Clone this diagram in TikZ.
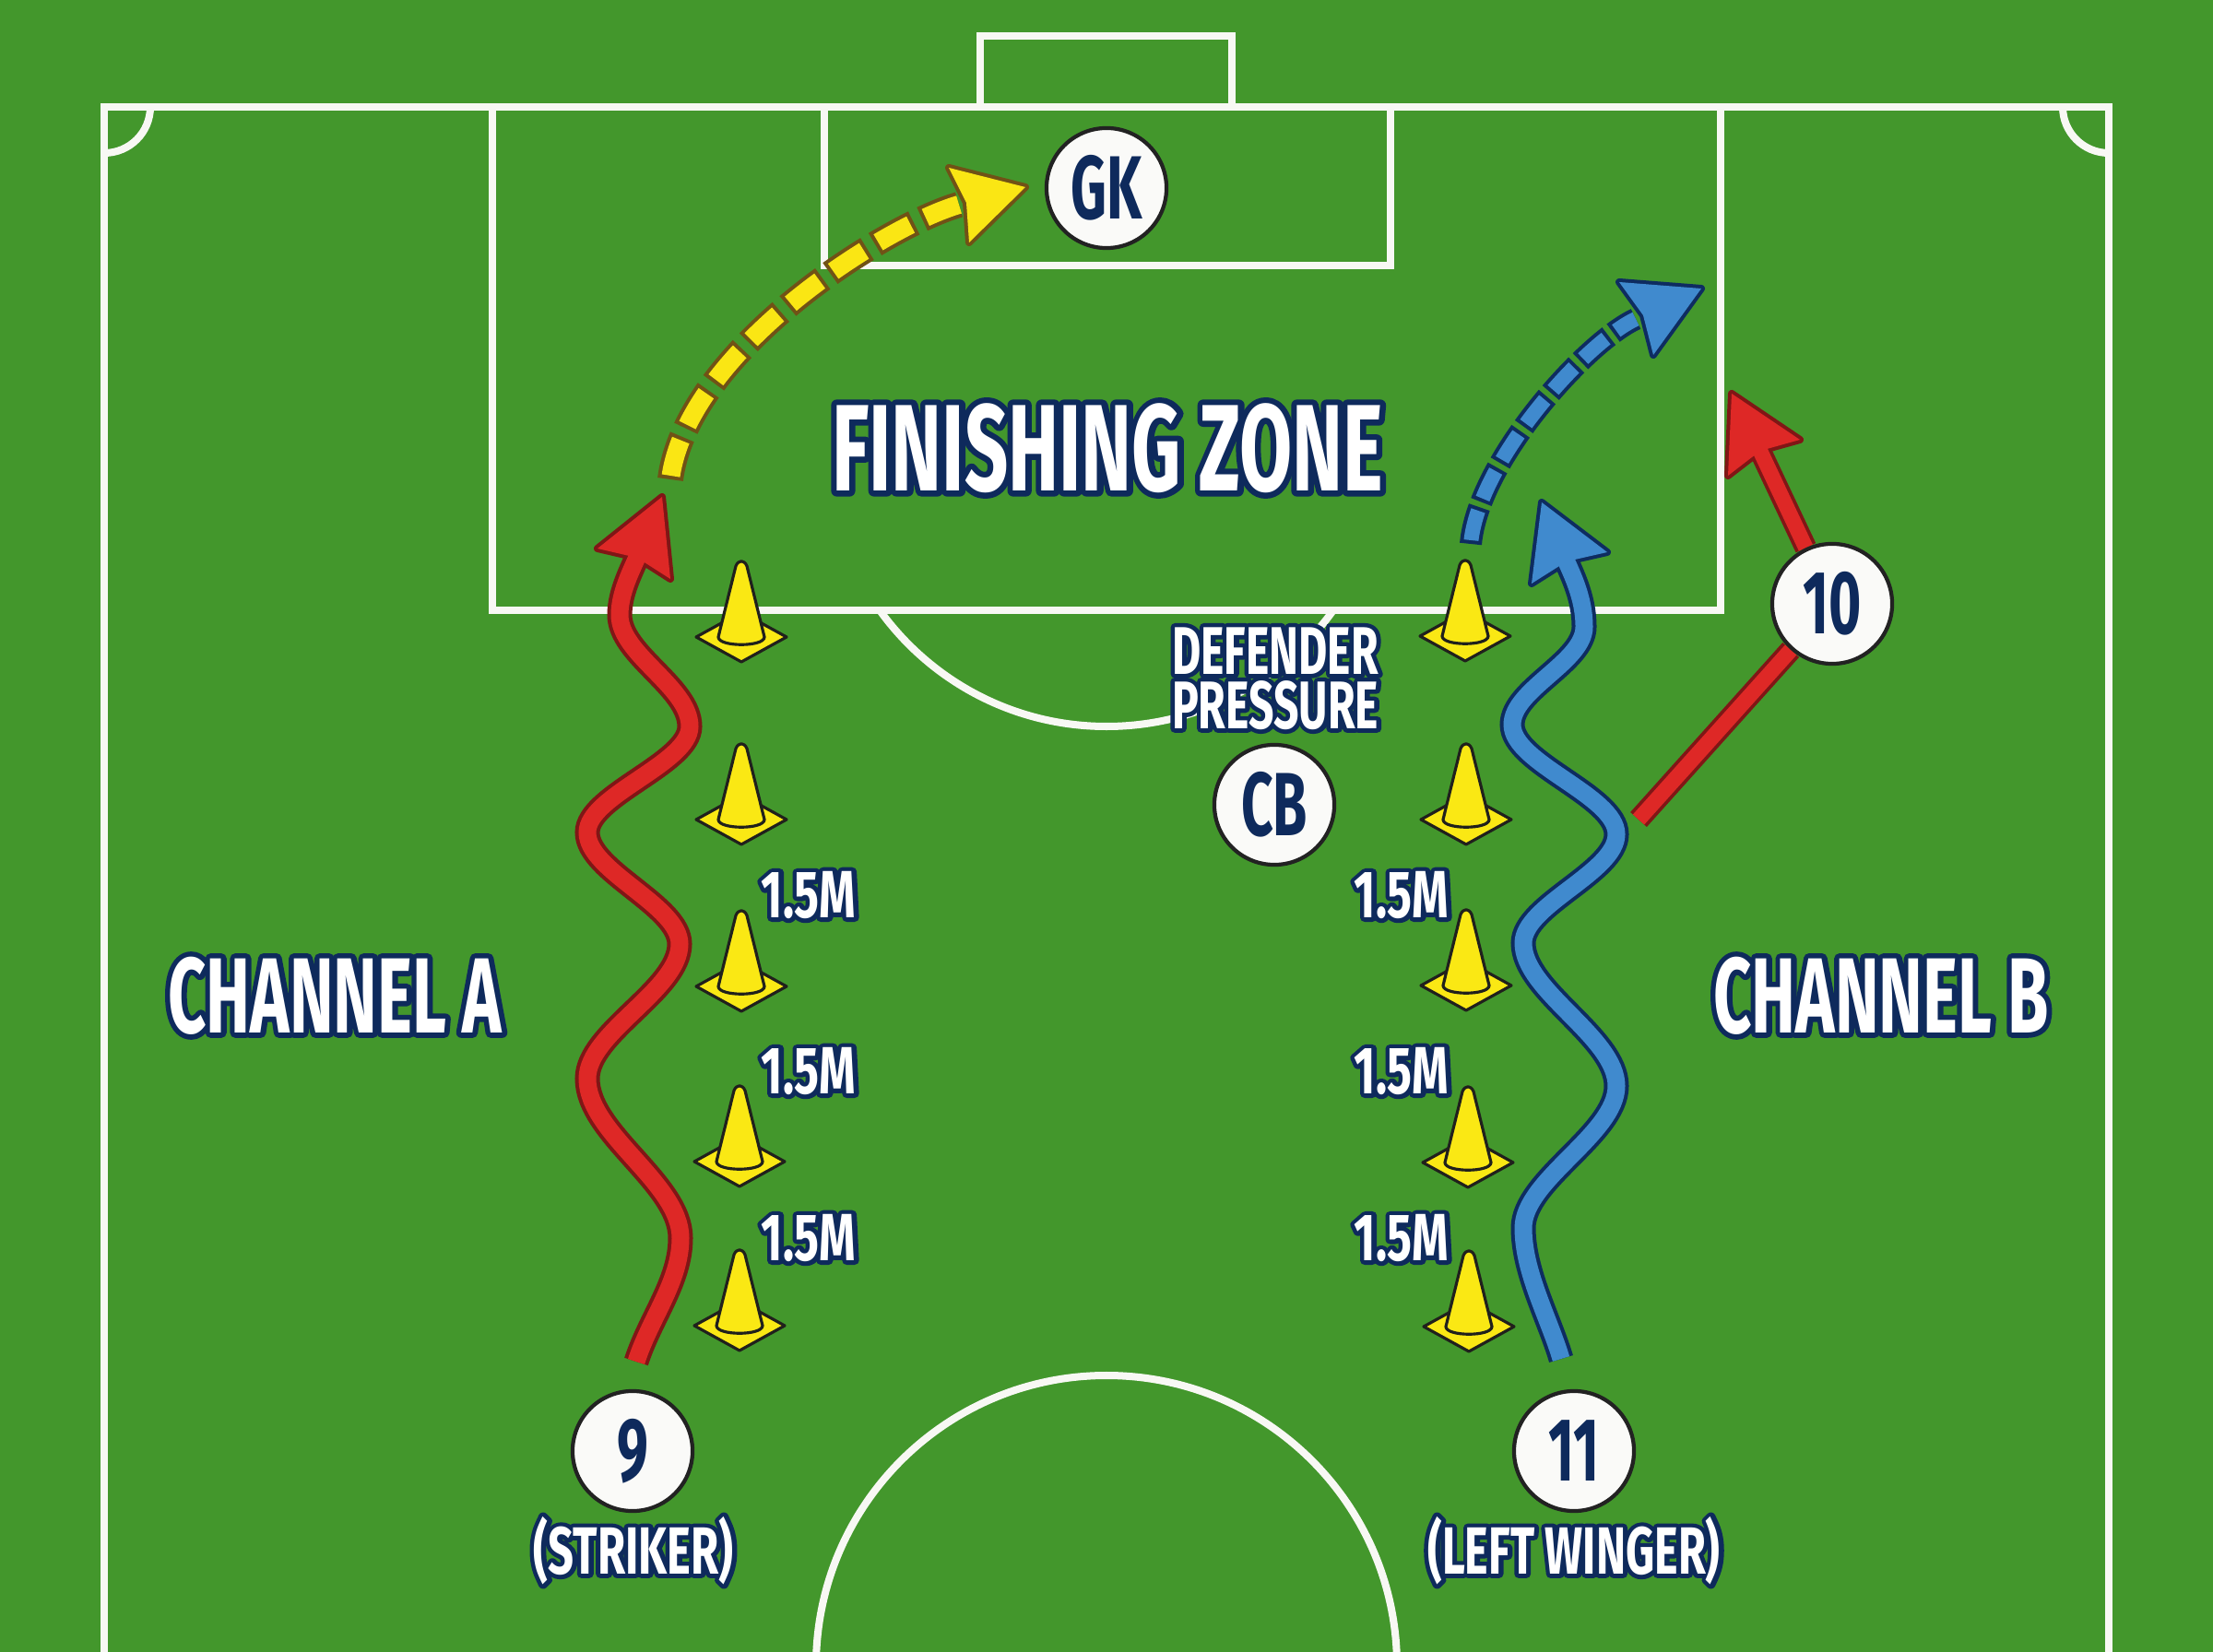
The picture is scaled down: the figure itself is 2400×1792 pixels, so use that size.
\documentclass[tikz,border=0pt]{standalone}
\usepackage{fontspec}
\newfontfamily\cond[FakeStretch=0.62]{Fira Sans}
\usetikzlibrary{calc}
\definecolor{grass}{RGB}{67,151,44}
\definecolor{chalk}{RGB}{248,248,244}
\definecolor{navy}{RGB}{14,42,92}
\definecolor{runred}{RGB}{222,40,38}
\definecolor{runredout}{RGB}{128,22,22}
\definecolor{runblue}{RGB}{64,138,206}
\definecolor{runblueout}{RGB}{14,44,96}
\definecolor{dashyellow}{RGB}{250,230,20}
\definecolor{dashyellowout}{RGB}{112,82,22}
\definecolor{coneyellow}{RGB}{250,232,20}
\definecolor{coneout}{RGB}{32,32,28}
\definecolor{discout}{RGB}{34,34,34}
\definecolor{discfill}{RGB}{250,250,248}
\pgfdeclarelayer{bg}\pgfdeclarelayer{runs}\pgfsetlayers{bg,runs,main}
% white text with a navy outline: a stroked navy copy under a white copy
\newcommand\otext[2][3]{%
  \makebox[0pt][l]{\textcolor{navy}{\special{pdf:code q 2 Tr #1 w 1 j}#2\special{pdf:code Q}}}%
  \textcolor{white}{#2}}
\begin{document}
\begin{tikzpicture}[x=0.01cm,y=-0.01cm,
  pitchline/.style={draw=chalk, line width=2.28pt, line join=miter},
  conebody/.style={fill=coneyellow, draw=coneout, line width=0.9pt, line join=round},
  pics/fieldcone/.style={code={
    \filldraw[conebody] (-49,0) -- (0,-27) -- (49,0) -- (0,27) -- cycle;
    \filldraw[conebody] (-25,0) -- (-6,-77) .. controls (-3,-84) and (3,-84) .. (6,-77)
       -- (25,0) .. controls (25,11) and (-25,11) .. (-25,0) -- cycle;
  }},
  player/.style={circle, draw=discout, fill=discfill, line width=1.2pt, minimum size=37pt,
    inner sep=0pt, text=navy, font=\cond\bfseries\fontsize{27.7pt}{30pt}\selectfont},
  txtbig/.style={inner sep=0pt, font=\cond\bfseries\fontsize{38pt}{40pt}\selectfont},
  txtchan/.style={inner sep=0pt, font=\cond\bfseries\fontsize{33pt}{36pt}\selectfont},
  txtmid/.style={inner sep=0pt, align=center, font=\cond\bfseries\fontsize{20.8pt}{16.8pt}\selectfont},
  txtsmall/.style={inner sep=0pt, font=\cond\bfseries\fontsize{20.6pt}{22pt}\selectfont},
  headout/.style={fill=#1, draw=#1, line width=2.28pt, line join=round},
  headin/.style={fill=#1},
  wave/.style 2 args={draw=#2, double=#1, line width=1.14pt, double distance=5.4pt},
  straightrun/.style 2 args={draw=#2, double=#1, line width=1.05pt, double distance=4.7pt}
]
\useasboundingbox (0,0) rectangle (2400,1792);
\begin{pgfonlayer}{bg}
\fill[grass] (0,0) rectangle (2400,1792);
% pitch markings
\draw[pitchline] (113,1900) -- (113,116) -- (2287,116) -- (2287,1900);
\draw[pitchline] (1063,116) -- (1063,39) -- (1336,39) -- (1336,116);
\draw[pitchline] (534,116) -- (534,662) -- (1866,662) -- (1866,116);
\draw[pitchline] (894,116) -- (894,288) -- (1508,288) -- (1508,116);
\draw[pitchline] (1200,1807) circle[radius=315];
\begin{scope}
  \clip (113,116) rectangle (220,220);
  \draw[pitchline] (113,116) circle[radius=50];
\end{scope}
\begin{scope}
  \clip (2180,116) rectangle (2287,220);
  \draw[pitchline] (2287,116) circle[radius=50];
\end{scope}
\begin{scope}
  \clip (0,662) rectangle (2400,1000);
  \draw[pitchline] (1200,485) circle[radius=303];
\end{scope}
% cones
\pic at (804,691) {fieldcone};
\pic at (804,889) {fieldcone};
\pic at (804,1070) {fieldcone};
\pic at (802,1260) {fieldcone};
\pic at (802,1438) {fieldcone};
\pic at (1589,690) {fieldcone};
\pic at (1590,889) {fieldcone};
\pic at (1590,1069) {fieldcone};
\pic at (1592,1261) {fieldcone};
\pic at (1593,1439) {fieldcone};
% texts
\node[txtbig] (fz) at (1201,486) {\otext[3.6]{FINISHING ZONE}};
\node[txtmid] (dp) at (1383,736) {\scalebox{1.06}[1]{\otext[2.6]{DEFENDER}}\\\scalebox{1.06}[1]{\otext[2.6]{PRESSURE}}};
\node[txtchan] (cha) at (363,1080) {\otext[3.2]{CHANNEL A}};
\node[txtchan] (chb) at (2040,1080) {\otext[3.2]{CHANNEL B}};
\node[txtsmall] (dl1) at (877,971) {\scalebox{1.12}[1]{\otext[2.6]{1.5M}}};
\node[txtsmall] (dl2) at (877,1162) {\scalebox{1.12}[1]{\otext[2.6]{1.5M}}};
\node[txtsmall] (dl3) at (877,1343) {\scalebox{1.12}[1]{\otext[2.6]{1.5M}}};
\node[txtsmall] (dr1) at (1520,971) {\scalebox{1.12}[1]{\otext[2.6]{1.5M}}};
\node[txtsmall] (dr2) at (1520,1162) {\scalebox{1.12}[1]{\otext[2.6]{1.5M}}};
\node[txtsmall] (dr3) at (1520,1343) {\scalebox{1.12}[1]{\otext[2.6]{1.5M}}};
\node[txtsmall] (strk) at (687,1682) {\scalebox{1.09}[1]{\otext[2.6]{(STRIKER)}}};
\node[txtsmall] (lwng) at (1707,1682) {\scalebox{1.08}[1]{\otext[2.6]{(LEFT WINGER)}}};
\end{pgfonlayer}
% players
\node[player] (gk) at (1200,204) {GK};
\node[player] (cb) at (1382,873) {CB};
\node[player] (ten) at (1987,655) {10};
\node[player] (nine) at (686,1574) {9};
\node[player] (eleven) at (1707,1574) {11};
% run coordinates
\coordinate (rws) at (690,1477);
\coordinate (rwe) at (696,593);
\coordinate (bws) at (1693,1474);
\coordinate (bwe) at (1694,598);
\coordinate (ys) at (727,520);
\coordinate (ye) at (1040,222);
\coordinate (bds) at (1595,590);
\coordinate (bde) at (1774,346);
\coordinate (rss) at (1777,889);
\coordinate (rse) at (1906,483);
\begin{pgfonlayer}{runs}
% red dribble (striker)
\filldraw[headout=runredout] (718,539) -- (648,595) -- (691,605) -- (727,628) -- cycle;
\draw[wave={runred}{runredout}] (rws) .. controls (705,1430) and (738,1390) .. (738,1343)
  .. controls (738,1283) and (637,1230) .. (637,1170)
  .. controls (637,1120) and (737,1074) .. (737,1024)
  .. controls (737,982) and (637,945) .. (637,903)
  .. controls (637,863) and (748,828) .. (748,788)
  .. controls (748,745) and (672,710) .. (672,667)
  .. controls (672,640) and (688,613) .. (rwe);
\fill[headin=runred] (718,539) -- (648,595) -- (691,605) -- (727,628) -- cycle;
% blue dribble (left winger)
\filldraw[headout=runblueout] (1672,545) -- (1661,633) -- (1699,609) -- (1743,599) -- cycle;
\draw[wave={runblue}{runblueout}] (bws) .. controls (1680,1430) and (1652,1380) .. (1652,1332)
  .. controls (1652,1280) and (1753,1230) .. (1753,1178)
  .. controls (1753,1125) and (1652,1075) .. (1652,1023)
  .. controls (1652,982) and (1753,946) .. (1753,905)
  .. controls (1753,863) and (1640,828) .. (1640,786)
  .. controls (1640,748) and (1718,718) .. (1718,680)
  .. controls (1718,645) and (1702,618) .. (bwe);
\fill[headin=runblue] (1672,545) -- (1661,633) -- (1699,609) -- (1743,599) -- cycle;
% yellow dashed shot
\draw[line width=7.97pt, dashyellowout, dash pattern=on 13.66pt off 2.84pt]
  (ys) .. controls (745,380) and (960,245) .. (ye);
\draw[line width=5.69pt, dashyellow, dash pattern=on 11.38pt off 5.12pt, dash phase=15.36pt]
  (ys) .. controls (745,380) and (960,245) .. (ye);
\filldraw[headout=dashyellowout] (1112,203) -- (1029,182) -- (1048,220) -- (1051,263) -- cycle;
\fill[headin=dashyellow] (1112,203) -- (1029,182) -- (1048,220) -- (1051,263) -- cycle;
% blue dashed shot
\draw[line width=6.83pt, runblueout, dash pattern=on 11.67pt off 1.70pt]
  (bds) .. controls (1603,500) and (1720,371) .. (bde);
\draw[line width=4.55pt, runblue, dash pattern=on 9.39pt off 3.98pt, dash phase=12.23pt]
  (bds) .. controls (1603,500) and (1720,371) .. (bde);
\filldraw[headout=runblueout] (1845,313) -- (1756,306) -- (1782,342) -- (1793,385) -- cycle;
\fill[headin=runblue] (1845,313) -- (1756,306) -- (1782,342) -- (1793,385) -- cycle;
% red straight run via 10
\draw[straightrun={runred}{runredout}] (rss) -- (ten);
\filldraw[headout=runredout] (1878,427) -- (1952,477) -- (1909,489) -- (1874,516) -- cycle;
\draw[straightrun={runred}{runredout}] (ten) -- (rse);
\fill[headin=runred] (1878,427) -- (1952,477) -- (1909,489) -- (1874,516) -- cycle;
\end{pgfonlayer}
\end{tikzpicture}
\end{document}
